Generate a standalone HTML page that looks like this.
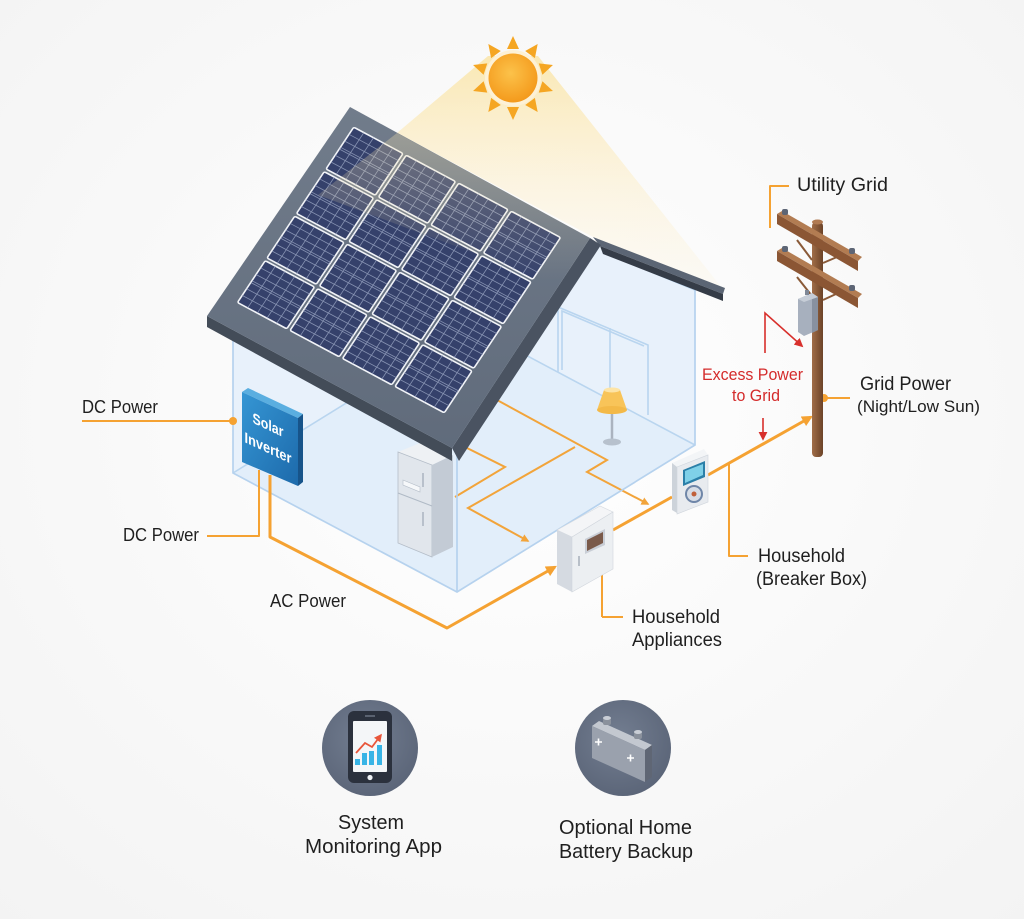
<!DOCTYPE html>
<html><head><meta charset="utf-8"><style>
html,body{margin:0;padding:0;background:#fbfbfb;}
svg{display:block;}
text{font-family:"Liberation Sans",sans-serif;fill:#1f1f1f;}
</style></head><body>
<svg width="1024" height="919" viewBox="0 0 1024 919" xmlns="http://www.w3.org/2000/svg" xmlns:xlink="http://www.w3.org/1999/xlink">
<defs>
<radialGradient id="bg" cx="50%" cy="45%" r="75%"><stop offset="0" stop-color="#ffffff"/><stop offset="1" stop-color="#f3f3f3"/></radialGradient>
<linearGradient id="cone" x1="0" y1="55" x2="0" y2="290" gradientUnits="userSpaceOnUse"><stop offset="0" stop-color="#fcd76e" stop-opacity="0.5"/><stop offset="0.6" stop-color="#fde3a0" stop-opacity="0.25"/><stop offset="1" stop-color="#fde8b0" stop-opacity="0.08"/></linearGradient>
<linearGradient id="wash" x1="0" y1="120" x2="0" y2="280" gradientUnits="userSpaceOnUse"><stop offset="0" stop-color="#f7e4b0" stop-opacity="0.35"/><stop offset="1" stop-color="#f7e4b0" stop-opacity="0"/></linearGradient>
<radialGradient id="sun" cx="45%" cy="40%" r="60%"><stop offset="0" stop-color="#fcc24a"/><stop offset="1" stop-color="#f49a1c"/></radialGradient>
<linearGradient id="roofTop" x1="0" y1="108" x2="0" y2="450" gradientUnits="userSpaceOnUse"><stop offset="0" stop-color="#717c8b"/><stop offset="1" stop-color="#606b7b"/></linearGradient>
<path id="pl" d="M0.224,0.03V0.97M0.408,0.03V0.97M0.592,0.03V0.97M0.776,0.03V0.97M0.03,0.19H0.97M0.03,0.34H0.97M0.03,0.48H0.97M0.03,0.52H0.97M0.03,0.66H0.97M0.03,0.81H0.97" stroke="#a2adc9" stroke-width="0.8" stroke-opacity="0.75" vector-effect="non-scaling-stroke" fill="none"/>
<linearGradient id="inv" x1="0" y1="0" x2="1" y2="1"><stop offset="0" stop-color="#3596d4"/><stop offset="1" stop-color="#1d6aab"/></linearGradient>
<linearGradient id="pole" x1="0" y1="0" x2="1" y2="0"><stop offset="0" stop-color="#a06d48"/><stop offset="1" stop-color="#6c4328"/></linearGradient>
<radialGradient id="circ" cx="45%" cy="40%" r="65%"><stop offset="0" stop-color="#737e91"/><stop offset="1" stop-color="#5a6477"/></radialGradient>
<marker id="ao" viewBox="0 0 10 10" refX="8" refY="5" markerWidth="11" markerHeight="11" markerUnits="userSpaceOnUse" orient="auto"><path d="M0,0L10,5L0,10z" fill="#f5a232"/></marker>
<marker id="aos" viewBox="0 0 10 10" refX="8" refY="5" markerWidth="8" markerHeight="8" markerUnits="userSpaceOnUse" orient="auto"><path d="M0,0L10,5L0,10z" fill="#f2a43a"/></marker>
<marker id="ar" viewBox="0 0 10 10" refX="8" refY="5" markerWidth="9" markerHeight="9" markerUnits="userSpaceOnUse" orient="auto"><path d="M0,0L10,5L0,10z" fill="#d8302c"/></marker>
<marker id="ared" viewBox="0 0 10 10" refX="8" refY="5" markerWidth="8" markerHeight="8" markerUnits="userSpaceOnUse" orient="auto"><path d="M0,0L10,5L0,10z" fill="#e8553a"/></marker>
</defs>
<rect width="1024" height="919" fill="url(#bg)"/>

<!-- sun cone (background part) -->
<polygon points="488,56 538,56 722,288 593,237 397,133" fill="url(#cone)"/>

<!-- house body -->
<polygon points="233,320 233,473 457,592 695,445 695,290 600,245 350,108" fill="#e8f1fb"/>
<polygon points="233,473 471,326 695,445 457,592" fill="#e2eefa"/>
<g stroke="#b9d5ef" stroke-width="1.6" fill="none">
<path d="M233,473 L471,326 L695,445"/>
<path d="M558,372 V307 L648,345 V415"/>
<path d="M562,370 V311 L644,346"/>
<path d="M610,328 V398"/>
<path d="M603,252 L695,290"/>
</g>

<!-- lamp -->
<line x1="612" y1="410" x2="612" y2="440" stroke="#aab3bf" stroke-width="2.5"/>
<ellipse cx="612" cy="442" rx="9" ry="3.5" fill="#b7c1cd"/>
<polygon points="604,390 620,390 627,410 597,410" fill="#f8c459"/>
<ellipse cx="612" cy="410" rx="15" ry="4" fill="#f3b948"/>
<ellipse cx="612" cy="390" rx="8" ry="2.5" fill="#fde4a6"/>

<!-- interior lines -->
<g stroke="#f2a43a" stroke-width="2" fill="none">
<path d="M497,400 L607,460 L587,472 L648,504" marker-end="url(#aos)"/>
<path d="M465,447 L505,467 L455,497"/>
<path d="M575,447 L468,508 L528,541" marker-end="url(#aos)"/>
</g>

<!-- fridge -->
<polygon points="398,452 420,443 453,455 432,465" fill="#eef1f4"/>
<polygon points="398,452 432,465 432,557 398,543" fill="#e1e6ec" stroke="#b4bdc8" stroke-width="0.8"/>
<polygon points="432,465 453,455 453,547 432,557" fill="#c3cbd5"/>
<path d="M398,493 L432,506" stroke="#b0bac6" stroke-width="1"/>
<path d="M423,473 V487 M423,512 V526" stroke="#aab4c0" stroke-width="1.5"/>
<polygon points="403,480 420,487 420,492 403,485" fill="#f6f8fa" stroke="#b4bdc8" stroke-width="0.6"/>

<!-- front walls edges -->
<g stroke="#b6d2ee" stroke-width="1.7" fill="none">
<path d="M233,330 V473 L457,592 L695,445 V290"/>
<path d="M457,455 V592"/>
</g>

<!-- roof -->
<polygon points="593,237 725,288 723,294 600,246" fill="#5b6574"/>
<polygon points="600,246 723,294 723,301 603,254" fill="#353c47"/>
<polygon points="207,316 452,448 452,461 207,327" fill="#434c58"/>
<polygon points="590,238 601,245 459,461 452,448" fill="#4a5361"/>
<polygon points="350,107 590,238 452,448 207,316" fill="url(#roofTop)"/>
<g transform="matrix(52.5,28,-29.5,44.5,353,125)">
<g fill="#35416b" stroke="#f2f4f8" stroke-width="1.6">
<rect x="0.03" y="0.03" width="0.94" height="0.94" rx="0.03" vector-effect="non-scaling-stroke"/>
<rect x="1.03" y="0.03" width="0.94" height="0.94" rx="0.03" vector-effect="non-scaling-stroke"/>
<rect x="2.03" y="0.03" width="0.94" height="0.94" rx="0.03" vector-effect="non-scaling-stroke"/>
<rect x="3.03" y="0.03" width="0.94" height="0.94" rx="0.03" vector-effect="non-scaling-stroke"/>
<rect x="0.03" y="1.03" width="0.94" height="0.94" rx="0.03" vector-effect="non-scaling-stroke"/>
<rect x="1.03" y="1.03" width="0.94" height="0.94" rx="0.03" vector-effect="non-scaling-stroke"/>
<rect x="2.03" y="1.03" width="0.94" height="0.94" rx="0.03" vector-effect="non-scaling-stroke"/>
<rect x="3.03" y="1.03" width="0.94" height="0.94" rx="0.03" vector-effect="non-scaling-stroke"/>
<rect x="0.03" y="2.03" width="0.94" height="0.94" rx="0.03" vector-effect="non-scaling-stroke"/>
<rect x="1.03" y="2.03" width="0.94" height="0.94" rx="0.03" vector-effect="non-scaling-stroke"/>
<rect x="2.03" y="2.03" width="0.94" height="0.94" rx="0.03" vector-effect="non-scaling-stroke"/>
<rect x="3.03" y="2.03" width="0.94" height="0.94" rx="0.03" vector-effect="non-scaling-stroke"/>
<rect x="0.03" y="3.03" width="0.94" height="0.94" rx="0.03" vector-effect="non-scaling-stroke"/>
<rect x="1.03" y="3.03" width="0.94" height="0.94" rx="0.03" vector-effect="non-scaling-stroke"/>
<rect x="2.03" y="3.03" width="0.94" height="0.94" rx="0.03" vector-effect="non-scaling-stroke"/>
<rect x="3.03" y="3.03" width="0.94" height="0.94" rx="0.03" vector-effect="non-scaling-stroke"/>
</g>
<use xlink:href="#pl" href="#pl" x="0" y="0"/><use xlink:href="#pl" href="#pl" x="1" y="0"/><use xlink:href="#pl" href="#pl" x="2" y="0"/><use xlink:href="#pl" href="#pl" x="3" y="0"/>
<use xlink:href="#pl" href="#pl" x="0" y="1"/><use xlink:href="#pl" href="#pl" x="1" y="1"/><use xlink:href="#pl" href="#pl" x="2" y="1"/><use xlink:href="#pl" href="#pl" x="3" y="1"/>
<use xlink:href="#pl" href="#pl" x="0" y="2"/><use xlink:href="#pl" href="#pl" x="1" y="2"/><use xlink:href="#pl" href="#pl" x="2" y="2"/><use xlink:href="#pl" href="#pl" x="3" y="2"/>
<use xlink:href="#pl" href="#pl" x="0" y="3"/><use xlink:href="#pl" href="#pl" x="1" y="3"/><use xlink:href="#pl" href="#pl" x="2" y="3"/><use xlink:href="#pl" href="#pl" x="3" y="3"/>
</g>
<!-- light wash over roof top -->
<polygon points="397,133 590,238 560,285 318,195" fill="url(#wash)"/>

<!-- sun -->
<g fill="#f5a623">
<polygon points="513,36 507,49 519,49"/>
<polygon points="513,36 507,49 519,49" transform="rotate(36 513 78)"/>
<polygon points="513,36 507,49 519,49" transform="rotate(72 513 78)"/>
<polygon points="513,36 507,49 519,49" transform="rotate(108 513 78)"/>
<polygon points="513,36 507,49 519,49" transform="rotate(144 513 78)"/>
<polygon points="513,36 507,49 519,49" transform="rotate(180 513 78)"/>
<polygon points="513,36 507,49 519,49" transform="rotate(216 513 78)"/>
<polygon points="513,36 507,49 519,49" transform="rotate(252 513 78)"/>
<polygon points="513,36 507,49 519,49" transform="rotate(288 513 78)"/>
<polygon points="513,36 507,49 519,49" transform="rotate(324 513 78)"/>
</g>
<circle cx="513" cy="78" r="28" fill="#fdf1d6"/>
<circle cx="513" cy="78" r="24.5" fill="url(#sun)"/>

<!-- inverter -->
<polygon points="242,392 248,388 303,414 298,418" fill="#5aaee0"/>
<polygon points="298,418 303,414 303,482 298,486" fill="#17548a"/>
<polygon points="242,392 298,418 298,486 242,462" fill="url(#inv)"/>
<g transform="translate(268,430) skewY(24.9)" style="font-weight:bold">
<text x="0" y="0" text-anchor="middle" font-size="15" style="fill:#ffffff" textLength="31" lengthAdjust="spacingAndGlyphs">Solar</text>
<text x="0" y="23" text-anchor="middle" font-size="15" style="fill:#ffffff" textLength="47" lengthAdjust="spacingAndGlyphs">Inverter</text>
</g>

<!-- external orange lines -->
<g stroke="#f5a232" fill="none" stroke-linejoin="round">
<path d="M82,421 H233" stroke-width="2"/>
<path d="M207,536 H259 V470" stroke-width="2"/>
<path d="M270,475 V537 L447,628 L555,567" stroke-width="3" marker-end="url(#ao)"/>
<path d="M613,530 L672,497" stroke-width="3"/>
<path d="M708,475 L811,417" stroke-width="3" marker-end="url(#ao)"/>
<path d="M729,464 V556 H748" stroke-width="2"/>
<path d="M602,617 V556" stroke-width="2" marker-end="url(#ao)"/>
<path d="M602,617 H623" stroke-width="2"/>
<path d="M770,228 V186 H789" stroke-width="2"/>
<path d="M824,398 H850" stroke-width="2"/>
</g>
<circle cx="233" cy="421" r="4" fill="#f5a232"/>
<circle cx="824" cy="398" r="4" fill="#f5a232"/>

<!-- breaker box -->
<polygon points="557,530 600,506 613,512 572,537" fill="#f4f5f7" stroke="#d4d9df" stroke-width="0.6"/>
<polygon points="557,530 572,537 572,592 557,584" fill="#d5dae1"/>
<polygon points="572,537 613,512 613,569 572,592" fill="#eceff2" stroke="#d0d5dc" stroke-width="0.6"/>
<polygon points="585,539 605,529 605,545 585,554" fill="#c9ced6"/>
<polygon points="587,540 603,532 603,543 587,551" fill="#7a5a4a"/>
<line x1="579" y1="556" x2="579" y2="566" stroke="#b8bfc8" stroke-width="2"/>

<!-- meter -->
<polygon points="672,463 704,449 708,455 677,467" fill="#f3f5f7"/>
<polygon points="672,463 677,467 677,513 672,510" fill="#cdd3da"/>
<polygon points="677,467 708,455 708,502 677,514" fill="#e8ebef" stroke="#cfd5dc" stroke-width="0.6"/>
<polygon points="683,470 705,461 705,477 683,486" fill="#2b7fa8"/>
<polygon points="685,471 703,464 703,475 685,483" fill="#7fd0e8"/>
<circle cx="694" cy="494" r="8" fill="#d7dde6" stroke="#6f86a8" stroke-width="2"/>
<circle cx="694" cy="494" r="2.5" fill="#c0603a"/>

<!-- pole -->
<rect x="812" y="222" width="11" height="235" rx="4" fill="url(#pole)"/>
<ellipse cx="817.5" cy="222" rx="5.5" ry="2.5" fill="#b07a52"/>
<g stroke="#8a5a38" stroke-width="2">
<path d="M797,240 L812,260 M823,263 L837,257 M797,277 L812,296 M823,300 L836,294"/>
</g>
<polygon points="777,214 782,211 862,257 858,261" fill="#b27c52"/>
<polygon points="777,214 858,261 858,271 777,224" fill="#8b5634"/>
<polygon points="777,251 782,248 862,294 858,298" fill="#b27c52"/>
<polygon points="777,251 858,298 858,308 777,261" fill="#8b5634"/>
<g fill="#5d6575">
<rect x="782" y="209" width="6" height="6" rx="2"/><rect x="849" y="248" width="6" height="6" rx="2"/>
<rect x="782" y="246" width="6" height="6" rx="2"/><rect x="849" y="285" width="6" height="6" rx="2"/>
</g>
<polygon points="798,299 812,293 818,297 818,330 804,336 798,332" fill="#a7b0be"/>
<polygon points="812,299 818,297 818,330 812,333" fill="#8891a0"/>
<polygon points="798,299 812,293 818,297 804,302" fill="#c6cdd7"/>
<rect x="805" y="290" width="4" height="5" fill="#7e8796"/>

<!-- red arrows -->
<g stroke="#d8302c" stroke-width="1.6" fill="none">
<path d="M765,353 V313 L802,346" marker-end="url(#ar)"/>
<path d="M763,418 V439" marker-end="url(#ar)"/>
</g>

<!-- labels -->
<text x="82" y="413" font-size="18" textLength="76" lengthAdjust="spacingAndGlyphs">DC Power</text>
<text x="123" y="541" font-size="18" textLength="76" lengthAdjust="spacingAndGlyphs">DC Power</text>
<text x="270" y="607" font-size="18" textLength="76" lengthAdjust="spacingAndGlyphs">AC Power</text>
<text x="632" y="623" font-size="19" textLength="88" lengthAdjust="spacingAndGlyphs">Household</text>
<text x="632" y="646" font-size="19" textLength="90" lengthAdjust="spacingAndGlyphs">Appliances</text>
<text x="758" y="562" font-size="19" textLength="87" lengthAdjust="spacingAndGlyphs">Household</text>
<text x="756" y="585" font-size="19" textLength="111" lengthAdjust="spacingAndGlyphs">(Breaker Box)</text>
<text x="702" y="380" font-size="17" textLength="101" lengthAdjust="spacingAndGlyphs" style="fill:#d42b2b">Excess Power</text>
<text x="732" y="401" font-size="17" textLength="48" lengthAdjust="spacingAndGlyphs" style="fill:#d42b2b">to Grid</text>
<text x="797" y="191" font-size="19" textLength="91" lengthAdjust="spacingAndGlyphs">Utility Grid</text>
<text x="860" y="390" font-size="19" textLength="91" lengthAdjust="spacingAndGlyphs">Grid Power</text>
<text x="857" y="412" font-size="17" textLength="123" lengthAdjust="spacingAndGlyphs">(Night/Low Sun)</text>

<!-- bottom icons -->
<circle cx="370" cy="748" r="48" fill="url(#circ)"/>
<rect x="348" y="711" width="44" height="72" rx="6" fill="#2b313d"/>
<rect x="353" y="721" width="34" height="51" rx="1" fill="#f4f6f8"/>
<line x1="365" y1="716" x2="375" y2="716" stroke="#6a7282" stroke-width="1.5"/>
<circle cx="370" cy="777.5" r="2.6" fill="#eef1f5"/>
<g fill="#38b4e6">
<rect x="355" y="759" width="5" height="6"/><rect x="362" y="753" width="5" height="12"/><rect x="369" y="751" width="5" height="14"/><rect x="377" y="745" width="5" height="20"/>
</g>
<path d="M356,753 L365,743 L372,747 L381,735" stroke="#e8553a" stroke-width="1.8" fill="none" marker-end="url(#ared)"/>

<circle cx="623" cy="748" r="48" fill="url(#circ)"/>
<polygon points="592,726 599,721 652,745 645,750" fill="#c3c8d0"/>
<polygon points="645,750 652,745 652,777 645,782" fill="#5f6674"/>
<polygon points="592,726 645,750 645,782 592,758" fill="#9aa1ad"/>
<rect x="603" y="718" width="8" height="7" rx="2" fill="#8a919c"/><ellipse cx="607" cy="718" rx="4" ry="2" fill="#c9ced6"/>
<rect x="634" y="732" width="8" height="7" rx="2" fill="#8a919c"/><ellipse cx="638" cy="732" rx="4" ry="2" fill="#c9ced6"/>
<g stroke="#ffffff" stroke-width="1.6"><path d="M595,742 h7 M598.5,738.5 v7 M627,758 h7 M630.5,754.5 v7"/></g>

<text x="338" y="829" font-size="20" textLength="66" lengthAdjust="spacingAndGlyphs">System</text>
<text x="305" y="853" font-size="20" textLength="137" lengthAdjust="spacingAndGlyphs">Monitoring App</text>
<text x="559" y="834" font-size="20" textLength="133" lengthAdjust="spacingAndGlyphs">Optional Home</text>
<text x="559" y="858" font-size="20" textLength="134" lengthAdjust="spacingAndGlyphs">Battery Backup</text>
</svg>
</body></html>
